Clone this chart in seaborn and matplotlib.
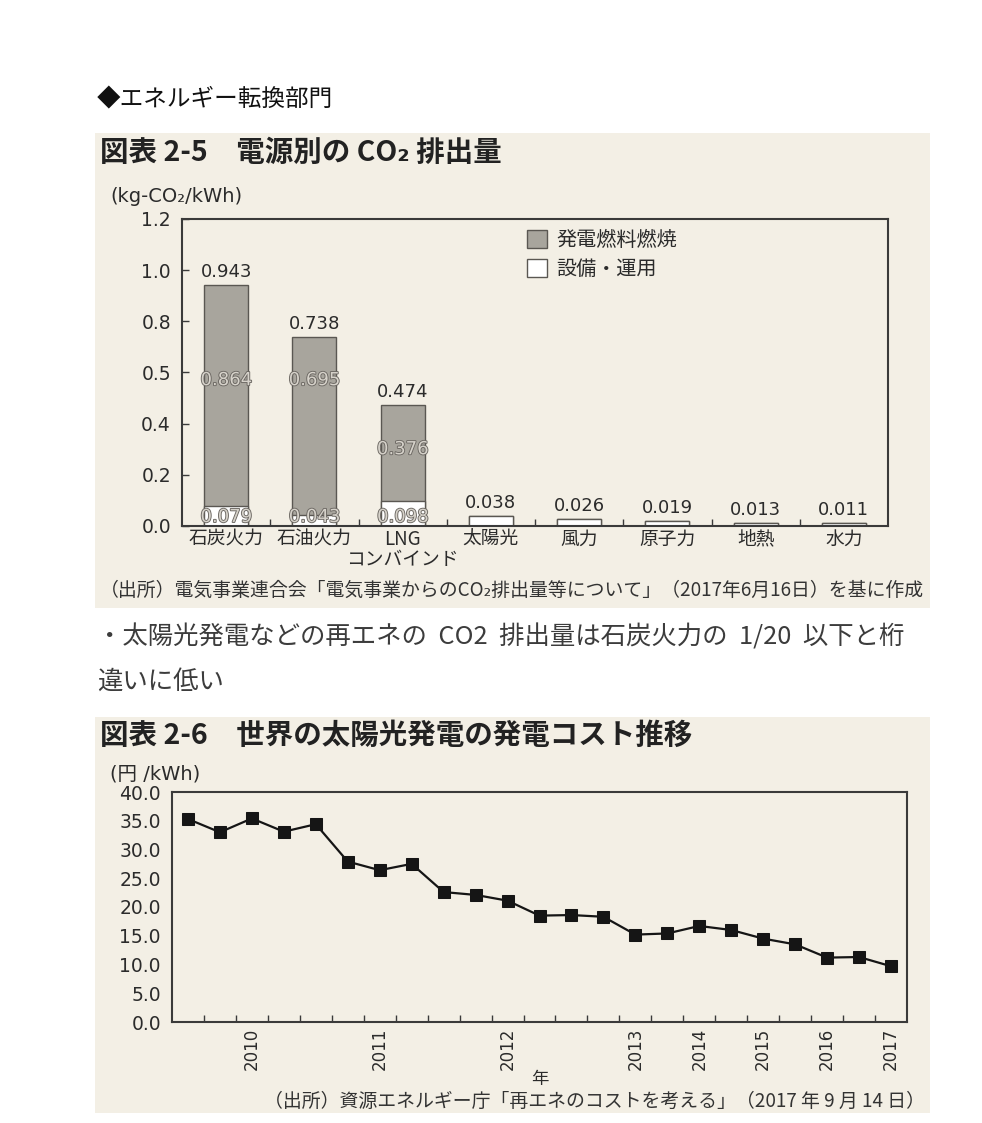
import numpy as np
import pandas as pd
import matplotlib
matplotlib.use('Agg')
import matplotlib.pyplot as plt
import seaborn as sns
from matplotlib.patches import Rectangle, Patch
import matplotlib.patheffects as pe

# ---------------- data ----------------
sources = ['石炭火力', '石油火力', 'LNG\nコンバインド', '太陽光', '風力', '原子力', '地熱', '水力']
fuel = [0.864, 0.695, 0.376, 0.0, 0.0, 0.0, 0.0, 0.0]
equipment = [0.079, 0.043, 0.098, 0.038, 0.026, 0.019, 0.013, 0.011]
totals = [0.943, 0.738, 0.474, 0.038, 0.026, 0.019, 0.013, 0.011]
y1_ticks = [0.0, 0.2, 0.4, 0.6, 0.8, 1.0, 1.2]
y1_ticklabels = ['0.0', '0.2', '0.4', '0.5', '0.8', '1.0', '1.2']
legend_labels = ['発電燃料燃焼', '設備・運用']

cost = [35.3, 33.0, 35.4, 33.1, 34.4, 27.9, 26.4, 27.5, 22.6, 22.1, 21.1,
        18.5, 18.6, 18.3, 15.2, 15.4, 16.7, 16.0, 14.5, 13.5, 11.2, 11.3, 9.7]
year_pos = [2, 6, 10, 14, 16, 18, 20, 22]
year_labels = ['2010', '2011', '2012', '2013', '2014', '2015', '2016', '2017']
y2_ticks = [0, 5, 10, 15, 20, 25, 30, 35, 40]

# ---------------- style ----------------
sns.set_theme(style='white')
JP = ['Noto Sans CJK JP', 'DejaVu Sans']
NUM = ['DejaVu Sans', 'Noto Sans CJK JP']
plt.rcParams['font.family'] = JP
plt.rcParams['axes.unicode_minus'] = False

W, H = 982, 1123
fig = plt.figure(figsize=(W / 100, H / 100), dpi=100, facecolor='white')

BEIGE = '#f3efe5'
TXT = '#2b2b2b'
SPINE = '#3a3a3a'
BAR_GRAY = '#a8a59d'


def fx(x):
    return x / W


def fy(y):
    return 1 - y / H


def ftext(x, y, s, **kw):
    kw.setdefault('va', 'center')
    kw.setdefault('color', TXT)
    return fig.text(fx(x), fy(y), s, **kw)


def add_axes_px(left, top, right, bottom):
    return fig.add_axes([fx(left), fy(bottom), (right - left) / W, (bottom - top) / H])


# background panels
fig.patches.append(Rectangle((fx(95), fy(608)), (930 - 95) / W, (608 - 133) / H,
                             transform=fig.transFigure, facecolor=BEIGE, edgecolor='none', zorder=-10))
fig.patches.append(Rectangle((fx(95), fy(1113)), (930 - 95) / W, (1113 - 717) / H,
                             transform=fig.transFigure, facecolor=BEIGE, edgecolor='none', zorder=-10))

# ---------------- header texts ----------------
ftext(97, 100, '◆エネルギー転換部門', fontsize=17, color='#111111')
ftext(100, 153, '図表 2-5　電源別の CO₂ 排出量', fontsize=20.5, fontweight='bold', color='#222222')
ftext(110, 197, '(kg-CO₂/kWh)', fontsize=14, family=NUM)

# ---------------- chart 1 ----------------
ax1 = add_axes_px(182, 219, 888, 526)
ax1.set_facecolor('none')
df1 = pd.DataFrame({'source': sources, 'total': totals, 'equip': equipment})
sns.barplot(data=df1, x='source', y='total', color=BAR_GRAY, saturation=1,
            width=0.5, edgecolor='#5a5752', linewidth=1.0, ax=ax1)
sns.barplot(data=df1, x='source', y='equip', color='white', saturation=1,
            width=0.5, edgecolor='#5a5752', linewidth=1.0, ax=ax1)
ax1.set_xlim(-0.5, len(sources) - 0.5)
ax1.set_ylim(0, 1.2)
ax1.set_yticks(y1_ticks)
ax1.set_yticklabels(y1_ticklabels, family=NUM)
ax1.set_xlabel('')
ax1.set_ylabel('')
ax1.set_xticks(np.arange(len(sources)))
ax1.set_xticklabels(sources, linespacing=0.95)
ax1.set_xticks(np.arange(len(sources) - 1) + 0.5, minor=True)
ax1.tick_params(axis='x', which='major', length=0, labelsize=13.5, pad=2, colors=TXT)
ax1.tick_params(axis='x', which='minor', direction='in', length=5, width=1, color=SPINE, bottom=True)
ax1.tick_params(axis='y', which='major', direction='in', length=5, width=1, color=SPINE,
                labelsize=13.5, pad=8, left=True, labelcolor=TXT)
for sp in ax1.spines.values():
    sp.set_visible(True)
    sp.set_color(SPINE)
    sp.set_linewidth(1.5)

# value labels
outline = [pe.withStroke(linewidth=1.3, foreground='#6b6762')]
fuel_label_y = [0.57, 0.57, 0.30]
for i, t in enumerate(totals):
    ax1.annotate(f'{t:.3f}', (i, t), xytext=(0, 3), textcoords='offset points',
                 ha='center', va='bottom', fontsize=13, color=TXT, family=NUM)
for i, f in enumerate(fuel):
    if f > 0:
        ax1.text(i, fuel_label_y[i], f'{f:.3f}', ha='center', va='center', fontsize=13,
                 color='#d6d2ca', path_effects=outline, family=NUM)
        ax1.text(i, 0.035, f'{equipment[i]:.3f}', ha='center', va='center', fontsize=13,
                 color='#d6d2ca', path_effects=outline, family=NUM)

handles = [Patch(facecolor=BAR_GRAY, edgecolor='#5a5752', linewidth=1.0),
           Patch(facecolor='white', edgecolor='#5a5752', linewidth=1.0)]
leg = ax1.legend(handles, legend_labels, loc='upper left', bbox_to_anchor=(0.488, 0.965),
                 frameon=False, fontsize=14.5, handlelength=1.0, handleheight=1.0,
                 handletextpad=0.5, labelspacing=0.4, borderpad=0, borderaxespad=0)
for t in leg.get_texts():
    t.set_color(TXT)

ftext(100, 590, '（出所）電気事業連合会「電気事業からのCO₂排出量等について」（2017年6月16日）を基に作成',
      fontsize=13.6, color='#333333')

# ---------------- body text ----------------
ftext(97, 637, '・太陽光発電などの再エネの  CO2  排出量は石炭火力の  1/20  以下と桁',
      fontsize=18.3, color='#3c3c3c')
ftext(97, 682, '違いに低い', fontsize=18.3, color='#3c3c3c')

# ---------------- chart 2 ----------------
ftext(100, 736, '図表 2-6　世界の太陽光発電の発電コスト推移', fontsize=20.5, fontweight='bold', color='#222222')
ftext(110, 774, '(円 /kWh)', fontsize=14, family=NUM)

ax2 = add_axes_px(172, 792, 907, 1022)
ax2.set_facecolor('none')
df2 = pd.DataFrame({'idx': np.arange(len(cost)), 'cost': cost})
sns.lineplot(data=df2, x='idx', y='cost', color='#151515', linewidth=1.6,
             marker='s', markersize=8.5, markeredgecolor='#151515', ax=ax2)
ax2.set_xlim(-0.5, len(cost) - 0.5)
ax2.set_ylim(0, 40)
ax2.set_yticks(y2_ticks)
ax2.set_yticklabels([f'{v:.1f}' for v in y2_ticks], family=NUM)
ax2.set_xticks(year_pos)
ax2.set_xticklabels(year_labels, rotation=90, family=NUM)
ax2.set_xticks(np.arange(len(cost) - 1) + 0.5, minor=True)
ax2.tick_params(axis='x', which='major', length=0, labelsize=12, pad=4, colors=TXT)
ax2.tick_params(axis='x', which='minor', direction='in', length=5, width=1, color=SPINE, bottom=True)
ax2.tick_params(axis='y', which='major', length=0, labelsize=13.5, pad=8, labelcolor=TXT)
ax2.set_xlabel('年', fontsize=12.5, color=TXT, labelpad=0)
ax2.set_ylabel('')
for sp in ax2.spines.values():
    sp.set_visible(True)
    sp.set_color(SPINE)
    sp.set_linewidth(1.5)

ftext(925, 1101, '（出所）資源エネルギー庁「再エネのコストを考える」（2017 年 9 月 14 日）',
      fontsize=13.6, ha='right', color='#333333')

fig.savefig('out.png', dpi=100, facecolor='white')
